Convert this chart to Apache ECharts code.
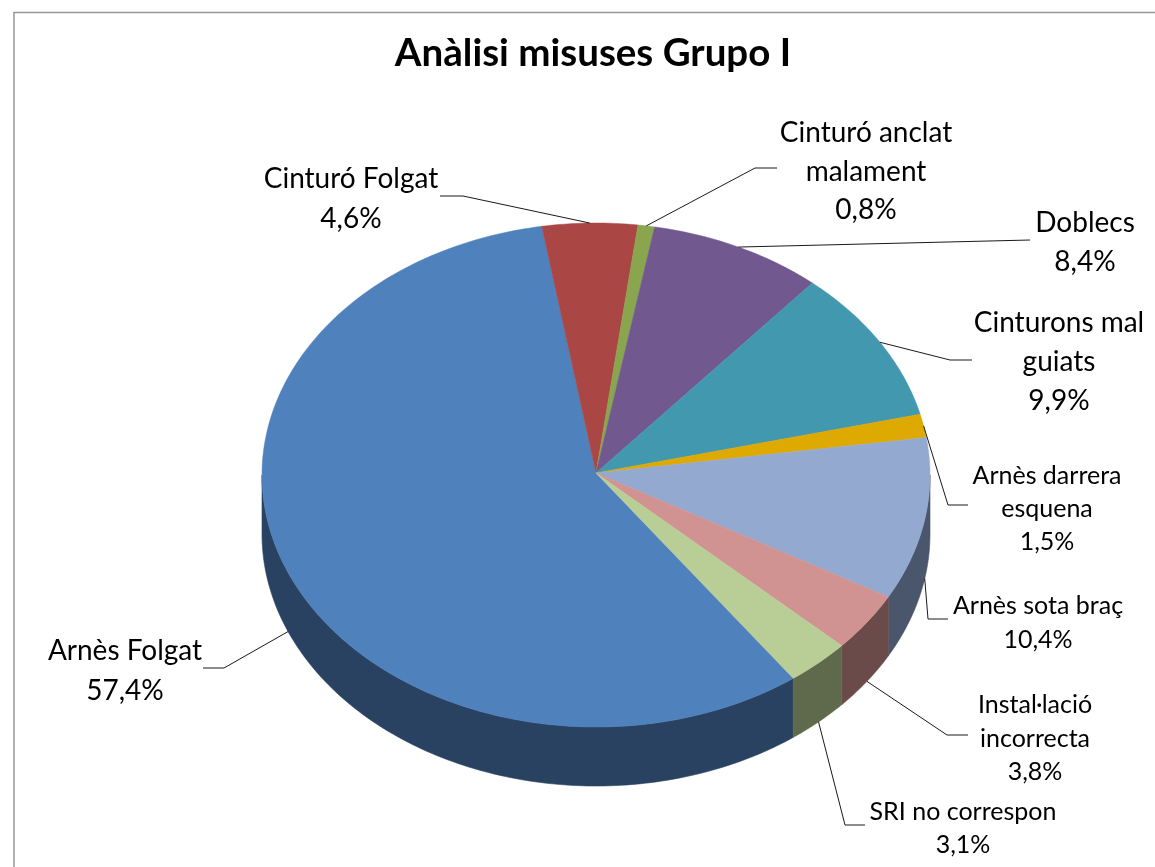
<!DOCTYPE html>
<html>
<head>
<meta charset="utf-8">
<title>Anàlisi misuses Grupo I</title>
<style>html,body{margin:0;padding:0;background:#fff;overflow:hidden}#c{width:1155px;height:867px}</style>
<script src="https://cdn.jsdelivr.net/npm/echarts@6/dist/echarts.min.js"></script>
</head>
<body>
<div id="c"></div>
<script>
const chartTitle = 'Anàlisi misuses Grupo I';
const categories = ['Arnès Folgat','Cinturó Folgat','Cinturó anclat\nmalament','Doblecs','Cinturons mal\nguiats','Arnès darrera\nesquena','Arnès sota braç','Instal·lació\nincorrecta','SRI no correspon'];
const values = [57.4,4.6,0.8,8.4,9.9,1.5,10.4,3.8,3.1];
const topColors = ['#4F81BD','#AA4643','#89A54E','#71588F','#4198AF','#DEA900','#93A9CF','#D19392','#B9CD96'];
const sideColors = ['#2A4262','#58241F','#47552A','#3A2D4A','#224F5B','#735800','#4A566B','#6B4B4A','#5F6A4D'];

// label placement: text centre x, first-line centre y, line height, font size, elbow, elbow end
const labelLayout = [
  {x:125, y:651, lh:40, fs:28, e:[224,668], f:[203,668]},
  {x:351, y:179, lh:40, fs:28, e:[463,196], f:[440,196]},
  {x:866, y:133, lh:38.5, fs:28, e:[755,168], f:[777,168]},
  {x:1085,y:223, lh:39, fs:28, e:null, f:[1030,240]},
  {x:1059,y:323, lh:39, fs:28, e:[950,360], f:[972,360]},
  {x:1047,y:476, lh:33, fs:25, e:[948,505], f:[968,505]},
  {x:1038,y:606, lh:34, fs:25, e:[928,619], f:[948,619]},
  {x:1035,y:705, lh:33.5, fs:25, e:[947,735], f:[968,735]},
  {x:963, y:812, lh:33, fs:25, e:[845,825], f:[865,825]}
];
const pie = {cx:596, cy:475, apexY:473, rx:334, ry:252, depth:59, startAngle:143.8};
const FONT = 'Lato, "Open Sans", sans-serif';

const total = values.reduce((a,b)=>a+b,0);
const spans = [];
(function(){
  let a = pie.startAngle;
  values.forEach(v=>{ const s = v/total*360; spans.push([a,a+s]); a+=s; });
})();
function pt(deg, dy){
  const r = deg*Math.PI/180;
  return [pie.cx+pie.rx*Math.sin(r), pie.cy-pie.ry*Math.cos(r)+(dy||0)];
}
function arc(a0,a1,dy){
  const n = Math.max(2,Math.ceil(Math.abs(a1-a0)/1));
  const out=[];
  for(let i=0;i<=n;i++) out.push(pt(a0+(a1-a0)*i/n,dy));
  return out;
}
// parts of a slice on the front half of the disc (90..270, modulo 360)
function frontParts(a0,a1){
  const parts=[];
  [[90,270],[450,630],[-270,-90]].forEach(w=>{
    const s=Math.max(a0,w[0]), e=Math.min(a1,w[1]);
    if(e>s) parts.push([s,e]);
  });
  return parts;
}

const sideItem = (p)=>{
  const i=p.dataIndex, kids=[];
  frontParts(spans[i][0],spans[i][1]).forEach(r=>{
    kids.push({type:'polygon',shape:{points:arc(r[0],r[1],0).concat(arc(r[1],r[0],pie.depth))},
      style:{fill:sideColors[i],stroke:sideColors[i],lineWidth:0.6}});
  });
  return {type:'group',children:kids};
};
const topItem = (p)=>{
  const i=p.dataIndex;
  return {type:'polygon',shape:{points:[[pie.cx,pie.apexY]].concat(arc(spans[i][0],spans[i][1],0))},
    style:{fill:topColors[i],stroke:topColors[i],lineWidth:0.5}};
};
const labelItem = (p)=>{
  const i=p.dataIndex, L=labelLayout[i];
  const mid=(spans[i][0]+spans[i][1])/2, m=((mid%360)+360)%360;
  const start=pt(mid,(m>90&&m<270)?pie.depth:0);
  const pts=L.e?[start,L.e,L.f]:[start,L.f];
  const lines=categories[i].split('\n').concat([values[i].toFixed(1).replace('.',',')+'%']);
  const kids=[{type:'polyline',shape:{points:pts},style:{fill:null,stroke:'#1a1a1a',lineWidth:1}}];
  lines.forEach((t,k)=>kids.push({type:'text',style:{text:t,x:L.x,y:L.y+k*L.lh,align:'center',verticalAlign:'middle',
    fill:'#000',font:L.fs+'px '+FONT}}));
  return {type:'group',children:kids};
};

const rows = values.map((v,i)=>[i,v]);
const chart = echarts.init(document.getElementById('c'),null,{renderer:'canvas',width:1155,height:867});
chart.setOption({
  animation:false,
  backgroundColor:'#fff',
  title:{text:chartTitle,left:588,top:29,textAlign:'center',
    textStyle:{fontFamily:FONT,fontWeight:'bold',fontSize:38.5,color:'#000'}},
  graphic:[{type:'polyline',silent:true,shape:{points:[[14,880],[14,12.5],[1170,12.5]]},
    style:{fill:null,stroke:'#969696',lineWidth:1.5}}],
  series:[
    {type:'custom',name:'side',coordinateSystem:'none',z:1,silent:true,data:rows,renderItem:sideItem},
    {type:'custom',name:'top',coordinateSystem:'none',z:2,silent:true,data:rows,renderItem:topItem},
    {type:'custom',name:'labels',coordinateSystem:'none',z:3,silent:true,data:rows,renderItem:labelItem}
  ]
});
</script>
</body>
</html>
